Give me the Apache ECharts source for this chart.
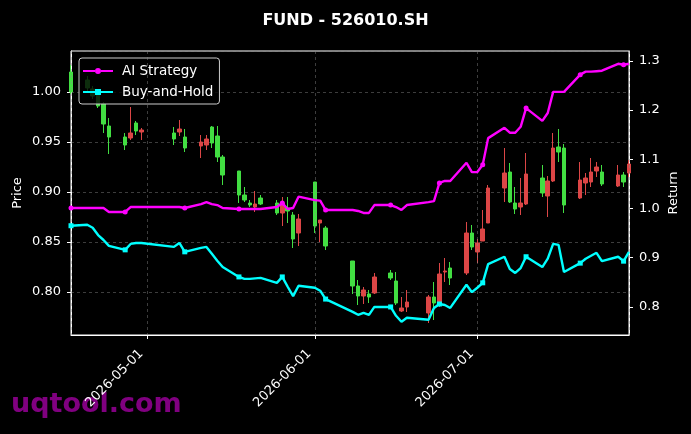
<!DOCTYPE html>
<html><head><meta charset="utf-8">
<script src="https://cdn.jsdelivr.net/npm/echarts@6/dist/echarts.min.js"></script>
<style>html,body{margin:0;padding:0;background:#000}#c{width:691px;height:434px}</style>
</head><body><div id="c"></div>
<script>
const dates = ['2026-04-17','2026-04-20','2026-04-21','2026-04-22','2026-04-23','2026-04-24','2026-04-27','2026-04-28','2026-04-29','2026-04-30',
'2026-05-06','2026-05-07','2026-05-08','2026-05-11','2026-05-12','2026-05-13','2026-05-14','2026-05-15','2026-05-18','2026-05-19',
'2026-05-20','2026-05-21','2026-05-22','2026-05-25','2026-05-26','2026-05-27','2026-05-28','2026-05-29','2026-06-01','2026-06-02',
'2026-06-03','2026-06-08','2026-06-09','2026-06-10','2026-06-11','2026-06-12','2026-06-15','2026-06-16','2026-06-17','2026-06-18',
'2026-06-22','2026-06-23','2026-06-24','2026-06-25','2026-06-26','2026-06-29','2026-06-30','2026-07-01','2026-07-02','2026-07-03',
'2026-07-06','2026-07-07','2026-07-08','2026-07-09','2026-07-10','2026-07-13','2026-07-14','2026-07-15','2026-07-16','2026-07-17',
'2026-07-20','2026-07-21','2026-07-22','2026-07-23','2026-07-24','2026-07-27','2026-07-28','2026-07-29'];
const open = [1.020,1.012,1.003,0.997,0.988,0.966,0.955,0.954,0.969,0.960,
0.959,0.960,0.955,0.946,0.947,0.965,0.956,0.935,0.921,0.897,
0.889,0.885,0.894,0.889,0.879,0.884,0.877,0.859,0.910,0.869,
0.864,0.831,0.806,0.796,0.798,0.799,0.819,0.811,0.781,0.785,
0.779,0.795,0.787,0.820,0.824,0.819,0.859,0.840,0.851,0.869,
0.904,0.920,0.889,0.885,0.888,0.914,0.896,0.911,0.945,0.944,
0.894,0.909,0.910,0.921,0.920,0.906,0.917,0.919];
const close = [1.000,1.004,0.996,0.986,0.968,0.955,0.947,0.959,0.961,0.962,
0.953,0.963,0.944,0.950,0.953,0.949,0.935,0.917,0.897,0.892,
0.887,0.888,0.888,0.879,0.889,0.881,0.853,0.873,0.866,0.872,
0.846,0.806,0.796,0.802,0.795,0.815,0.814,0.789,0.784,0.790,
0.795,0.789,0.818,0.821,0.814,0.859,0.845,0.849,0.863,0.904,
0.919,0.890,0.883,0.889,0.918,0.899,0.911,0.944,0.940,0.887,
0.912,0.914,0.920,0.925,0.908,0.917,0.910,0.928];
const low = [0.998,1.001,0.993,0.984,0.959,0.938,0.942,0.952,0.957,0.952,
0.947,0.956,0.940,0.934,0.942,0.944,0.930,0.907,0.889,0.890,
0.885,0.880,0.887,0.877,0.866,0.869,0.844,0.846,0.859,0.850,
0.842,0.798,0.787,0.788,0.789,0.798,0.812,0.787,0.780,0.780,
0.769,0.772,0.785,0.810,0.807,0.817,0.842,0.829,0.851,0.869,
0.890,0.889,0.878,0.877,0.887,0.895,0.875,0.910,0.930,0.879,
0.893,0.897,0.905,0.915,0.906,0.905,0.905,0.915];
const high = [1.027,1.016,1.006,0.999,0.990,0.974,0.959,0.985,0.971,0.964,
0.965,0.972,0.963,0.957,0.957,0.966,0.966,0.937,0.921,0.905,
0.892,0.901,0.897,0.892,0.895,0.895,0.880,0.878,0.910,0.872,
0.866,0.831,0.812,0.805,0.802,0.819,0.822,0.820,0.795,0.802,
0.797,0.810,0.829,0.834,0.830,0.870,0.867,0.853,0.882,0.907,
0.944,0.929,0.905,0.914,0.939,0.927,0.916,0.959,0.963,0.948,
0.930,0.919,0.934,0.930,0.927,0.927,0.920,0.932];
const aiStrategy = [1.001,1.001,1.001,1.001,1.001,0.993,0.993,1.003,1.003,1.003,
1.003,1.003,1.001,1.009,1.013,1.009,1.007,1.001,0.999,0.999,
0.999,0.999,0.999,1.003,1.011,0.999,1.001,1.024,1.017,1.016,
0.997,0.997,0.995,0.991,0.991,1.007,1.007,1.003,0.997,1.007,
1.013,1.015,1.052,1.056,1.056,1.093,1.074,1.074,1.089,1.143,
1.164,1.154,1.154,1.166,1.204,1.178,1.194,1.237,1.237,1.237,
1.272,1.278,1.278,1.279,1.280,1.294,1.292,1.294];
const buyHold = [0.965,0.967,0.961,0.946,0.936,0.924,0.916,0.928,0.930,0.930,
0.922,0.930,0.912,0.920,0.922,0.908,0.894,0.881,0.861,0.857,
0.857,0.858,0.859,0.849,0.861,0.841,0.822,0.843,0.839,0.833,
0.816,0.790,0.784,0.788,0.784,0.800,0.800,0.782,0.770,0.778,
0.774,0.798,0.806,0.804,0.798,0.845,0.830,0.839,0.849,0.887,
0.902,0.877,0.869,0.879,0.902,0.881,0.898,0.928,0.926,0.871,
0.889,0.898,0.904,0.910,0.893,0.902,0.893,0.912];
const seriesNames = ['AI Strategy','Buy-and-Hold'];
const titleText = 'FUND - 526010.SH';

const FONT = 'DejaVu Sans';
const DAY = 86400000;
const markEvery = 6;
function pad(n){return n<10?'0'+n:''+n;}
function fmtDate(v){const d=new Date(v);return d.getFullYear()+'-'+pad(d.getMonth()+1)+'-'+pad(d.getDate());}

const candleData = dates.map((d,i)=>[d, open[i], close[i], low[i], high[i]]);
const aiData = dates.map((d,i)=>({value:[d, aiStrategy[i]], symbol: i%markEvery===0?'circle':'none'}));
const bhData = dates.map((d,i)=>({value:[d, buyHold[i]], symbol: i%markEvery===0?'rect':'none'}));

const iconCircle = 'path://M0,1.9 L12,1.9 L12,4.1 L0,4.1 Z M18,1.9 L30,1.9 L30,4.1 L18,4.1 Z M18,3 A3,3 0 1,1 12,3 A3,3 0 1,1 18,3 Z';
const iconRect = 'path://M0,1.9 L12,1.9 L12,4.1 L0,4.1 Z M18,1.9 L30,1.9 L30,4.1 L18,4.1 Z M12,0 L18,0 L18,6 L12,6 Z';

const chart = echarts.init(document.getElementById('c'), null, {renderer:'canvas'});
const gridLine = {show:true, lineStyle:{color:'rgba(140,140,140,0.55)', type:[3,3], width:0.8}};
chart.setOption({
  animation:false,
  backgroundColor:'#000',
  title:{text:titleText, left:'center', top:8, textStyle:{color:'#fff', fontFamily:FONT, fontSize:16, fontWeight:'bold'}},
  legend:{
    data:[{name:seriesNames[0], icon:iconCircle},{name:seriesNames[1], icon:iconRect}],
    orient:'vertical', left:79, top:58,
    padding:[6,6,5,4], itemGap:7, itemWidth:30, itemHeight:6,
    backgroundColor:'rgba(0,0,0,0.8)', borderColor:'#cccccc', borderWidth:1, borderRadius:3,
    textStyle:{color:'#fff', fontFamily:FONT, fontSize:13.5, lineHeight:14, padding:[0,0,0,4]}
  },
  grid:{left:71, right:62, top:51, bottom:99, containLabel:false, outerBoundsMode:'none', show:true, borderColor:'#fff', borderWidth:1},
  xAxis:{
    type:'time', min:'2026-04-17', max:'2026-07-29', z:5,
    minInterval:28*DAY, maxInterval:31*DAY,
    axisLine:{show:true, lineStyle:{color:'#fff'}},
    axisTick:{show:true, length:4, lineStyle:{color:'#fff'}},
    axisLabel:{color:'#fff', fontFamily:FONT, fontSize:13, rotate:45, margin:11, padding:[0,8,0,0],
      formatter:(v)=>fmtDate(v), showMinLabel:false, showMaxLabel:false},
    splitLine:gridLine
  },
  yAxis:[{
    type:'value', min:0.757, max:1.041, splitNumber:5, position:'left',
    name:'Price', nameLocation:'middle', nameRotate:90, nameGap:47, nameMoveOverlap:false,
    nameTextStyle:{color:'#fff', fontFamily:FONT, fontSize:13},
    axisLine:{show:true, lineStyle:{color:'#fff'}},
    axisTick:{show:true, length:4, lineStyle:{color:'#fff'}},
    axisLabel:{color:'#fff', fontFamily:FONT, fontSize:13, margin:10, formatter:(v)=>v.toFixed(2), showMinLabel:false, showMaxLabel:false},
    splitLine:gridLine
  },{
    type:'value', min:0.743, max:1.320, splitNumber:5, position:'right',
    name:'Return', nameLocation:'middle', nameRotate:90, nameGap:38, nameMoveOverlap:false,
    nameTextStyle:{color:'#fff', fontFamily:FONT, fontSize:13},
    axisLine:{show:true, lineStyle:{color:'#fff'}},
    axisTick:{show:true, length:4, lineStyle:{color:'#fff'}},
    axisLabel:{color:'#fff', fontFamily:FONT, fontSize:13, margin:10, formatter:(v)=>v.toFixed(1), showMinLabel:false, showMaxLabel:false},
    splitLine:{show:false}
  }],
  series:[
    {type:'candlestick', name:'Price', yAxisIndex:0, data:candleData, encode:{x:0, y:[1,2,3,4]},
      barWidth:4, clip:true, z:2,
      itemStyle:{color:'#dc4646', color0:'#42de42', borderColor:'#dc4646', borderColor0:'#42de42', borderWidth:1}},
    {type:'line', name:seriesNames[0], yAxisIndex:1, data:aiData, z:5, showSymbol:true, showAllSymbol:true,
      symbol:'circle', symbolSize:5, lineStyle:{color:'#ff00ff', width:2.4}, itemStyle:{color:'#ff00ff'}},
    {type:'line', name:seriesNames[1], yAxisIndex:1, data:bhData, z:5, showSymbol:true, showAllSymbol:true,
      symbol:'rect', symbolSize:5, lineStyle:{color:'#00ffff', width:2.4}, itemStyle:{color:'#00ffff'}}
  ],
  graphic:[{type:'text', left:11, top:391, z:-10, style:{text:'uqtool.com', fill:'#800080', font:'bold 27px "DejaVu Sans"'}}]
});
</script></body></html>
